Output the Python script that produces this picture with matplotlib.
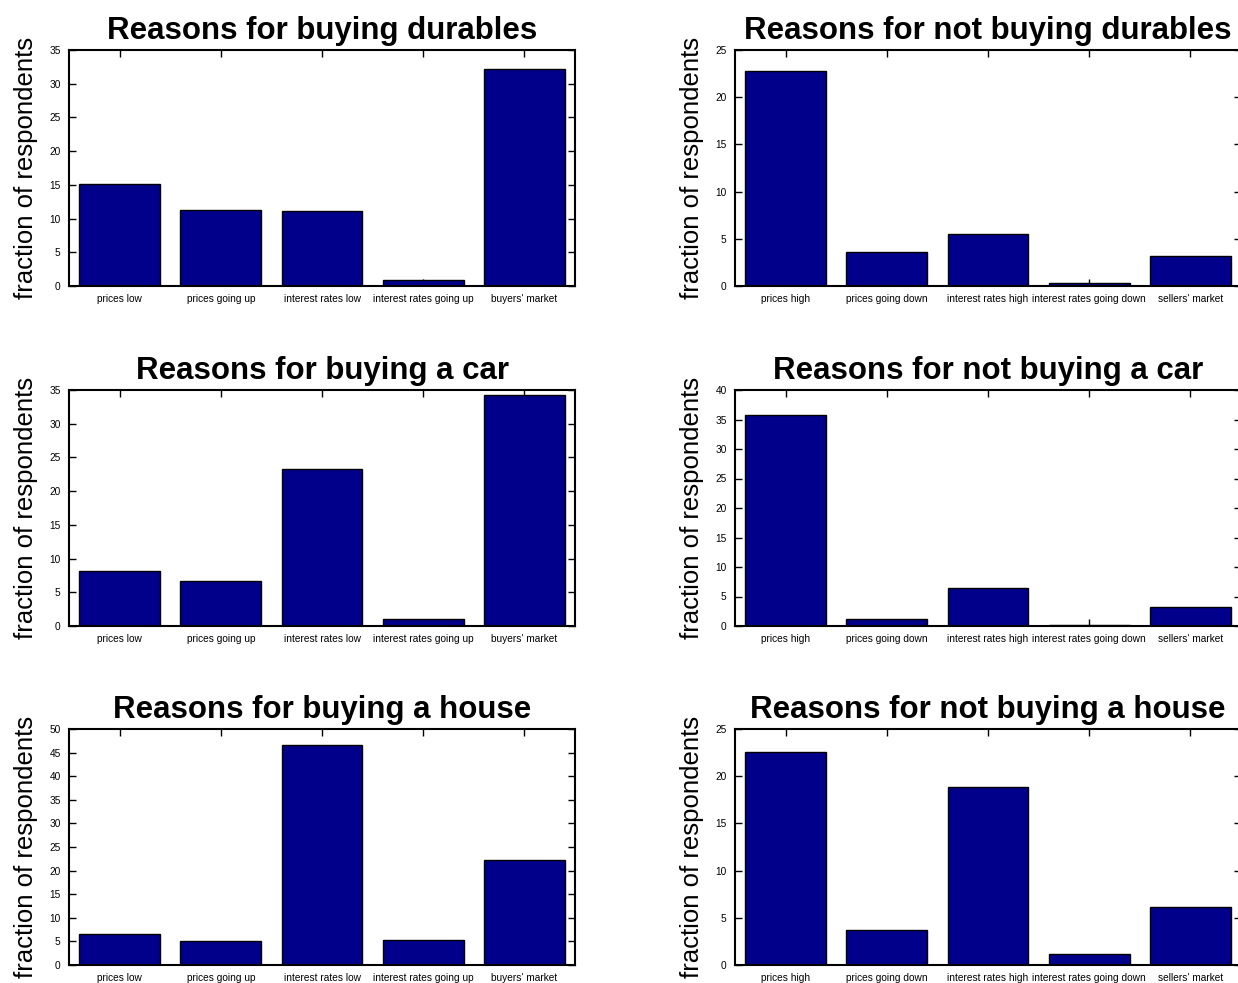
import numpy as np
import matplotlib
matplotlib.use("Agg")
from matplotlib import pyplot as plt

buy_labels = ["prices low", "prices going up", "interest rates low",
              "interest rates going up", "buyers' market"]
notbuy_labels = ["prices high", "prices going down", "interest rates high",
                 "interest rates going down", "sellers' market"]

durables_buy = [15.2, 11.2, 11.1, 0.9, 32.2]
durables_notbuy = [22.8, 3.6, 5.5, 0.3, 3.2]
car_buy = [8.1, 6.6, 23.3, 1.1, 34.3]
car_notbuy = [35.7, 1.2, 6.5, 0.2, 3.3]
house_buy = [6.5, 5.1, 46.6, 5.3, 22.2]
house_notbuy = [22.6, 3.7, 18.9, 1.2, 6.1]

titles = ["Reasons for buying durables", "Reasons for not buying durables",
          "Reasons for buying a car", "Reasons for not buying a car",
          "Reasons for buying a house", "Reasons for not buying a house"]
ymax = [35, 25, 35, 40, 50, 25]

W, H = 1238, 983
fig = plt.figure(figsize=(W / 100, H / 100), dpi=100)

panels = [
    (durables_buy, buy_labels), (durables_notbuy, notbuy_labels),
    (car_buy, buy_labels), (car_notbuy, notbuy_labels),
    (house_buy, buy_labels), (house_notbuy, notbuy_labels),
]
col_left = [69, 735]
row_bottom = [286, 626, 965]
ax_w, ax_h = 506, 236

fam = ["Liberation Sans", "DejaVu Sans"]

for i, (vals, labels) in enumerate(panels):
    r, c = divmod(i, 2)
    ax = fig.add_axes([col_left[c] / W, 1 - row_bottom[r] / H, ax_w / W, ax_h / H])
    x = np.arange(len(vals))
    ax.bar(x, vals, width=0.8, color="#00008b", edgecolor="black", linewidth=1, zorder=2)
    ax.set_xlim(-0.5, len(vals) - 0.5)
    ax.set_ylim(0, ymax[i])
    ax.set_yticks(np.arange(0, ymax[i] + 1, 5))
    ax.set_xticks(x)
    ax.set_xticklabels(labels, family=fam, fontsize=7.3)
    for t in ax.get_yticklabels():
        t.set_family(fam)
        t.set_fontsize(7.3)
    ax.tick_params(direction="in", top=True, right=True, length=5, width=1, pad=6)
    for s in ax.spines.values():
        s.set_linewidth(1.5)
    ax.set_title(titles[i], fontsize=22.5, fontweight="bold", family=fam, pad=8)
    ax.set_ylabel("fraction of respondents", fontsize=18.5, family=fam, labelpad=8)

fig.savefig("out.png", dpi=100)
